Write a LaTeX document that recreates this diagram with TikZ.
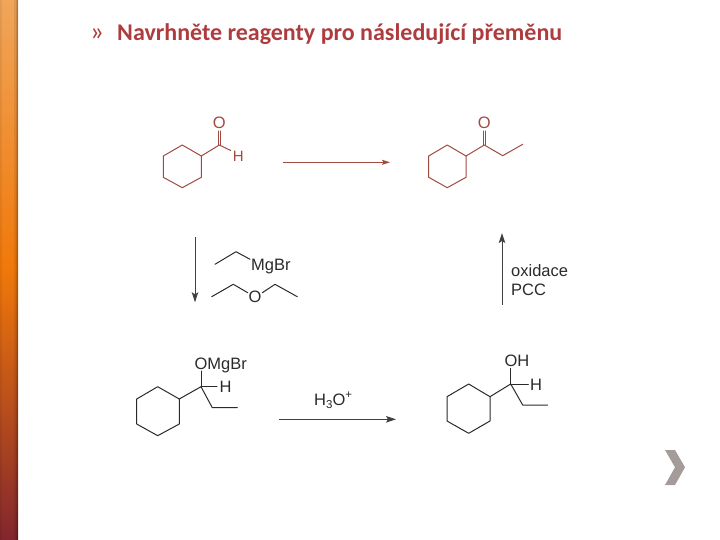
\documentclass[tikz,border=0pt]{standalone}
\usepackage{fontspec}
\setmainfont{Liberation Sans}
\newfontfamily\titlefont{Carlito}
\usetikzlibrary{arrows.meta}
\definecolor{titlered}{HTML}{AE3C3E}
\definecolor{molred}{HTML}{A04A40}
\definecolor{molblack}{HTML}{2A2A2A}
\definecolor{arrowgray}{HTML}{404040}
\definecolor{chevgray}{HTML}{A39C98}
\definecolor{barA}{RGB}{240,165,90}
\definecolor{barB}{RGB}{240,120,10}
\definecolor{barD}{RGB}{130,38,45}
\tikzset{
  bond/.style={line width=1pt,line cap=round,line join=round,color=molblack},
  redbond/.style={bond,color=molred},
  rxnarrow/.style={line width=1pt,color=arrowgray,-{Stealth[length=10pt,width=6.5pt,inset=2pt]}},
  redarrow/.style={rxnarrow,line width=0.9pt,color=molred,-{Stealth[length=8pt,width=5pt,inset=1.5pt]}},
  atom/.style={font=\fontsize{16.5}{18}\selectfont,inner sep=0pt,anchor=base west,text=molblack},
  redatom/.style={atom,text=molred},
  titletext/.style={font=\titlefont\bfseries\fontsize{24}{26}\selectfont,inner sep=0pt,anchor=base west,text=titlered}
}
\begin{document}
\begin{tikzpicture}[x=1pt,y=-1pt]
\useasboundingbox (0,0) rectangle (720,540);
% side bar
\fill[top color=barA,bottom color=barB] (0,0) rectangle (18,270);
\fill[top color=barB,bottom color=barD] (0,270) rectangle (18,540);
\fill[black,opacity=0.08] (14,0) rectangle (18,540);
\fill[black,opacity=0.10] (15.5,0) rectangle (18,540);
\fill[black,opacity=0.12] (17,0) rectangle (18,540);
\fill[black,opacity=0.06] (0,0) rectangle (2,540);
% title
\node[titletext,font=\titlefont\fontsize{27}{28}\selectfont] (bullet) at (90,41) {»};
\node[titletext] (title) at (117,41) {Navrhněte reagenty pro následující přeměnu};
% chevron
\fill[chevgray] (665,450) -- (675,450) -- (685,467.3) -- (675,485) -- (665,485) -- (675,467.3) -- cycle;
% molecule 1
\draw[redbond] (182.3,145) -- (201.3,156) -- (201.3,177.3) -- (182.3,187.7) -- (163.3,177.3) -- (163.3,156) -- cycle;
\draw[redbond] (201.3,156) -- (219.3,145) -- (230.7,150.5);
\draw[redbond] (218,145) -- (218,131) (220.6,145) -- (220.6,131);
\node[redatom,anchor=center] (o1) at (219.3,123.3) {O};
\node[redatom,anchor=center,font=\fontsize{15}{18}\selectfont] (h1) at (238.3,156) {H};
% arrow 1
\coordinate (a1s) at (283.3,162.3);
\coordinate (a1e) at (390,162.3);
\draw[redarrow] (a1s) -- (a1e);
% molecule 2
\draw[redbond] (447.3,145) -- (466,156) -- (466,177.3) -- (447.3,187.7) -- (428.7,177.3) -- (428.7,156) -- cycle;
\draw[redbond] (466,156) -- (484.3,145) -- (502.7,155.7) -- (522.7,144.3);
\draw[redbond] (483,145) -- (483,131) (485.6,145) -- (485.6,131);
\node[redatom,anchor=center] (o2) at (484.3,123.3) {O};
% arrow up
\coordinate (a2s) at (502,305);
\coordinate (a2e) at (502,233);
\draw[rxnarrow] (a2s) -- (a2e);
\node[atom] (oxi) at (511,276.7) {oxidace};
\node[atom] (pcc) at (511,295.7) {PCC};
% arrow down
\coordinate (a3s) at (195,236.7);
\coordinate (a3e) at (195,302.3);
\draw[rxnarrow] (a3s) -- (a3e);
\draw[bond] (215,264.3) -- (236,251.7) -- (250,259.3);
\node[atom] (mgbr) at (251,270) {MgBr};
\draw[bond] (211.7,296.7) -- (233.3,284.3) -- (247.7,292.7);
\node[atom,anchor=center] (oe) at (255,296.7) {O};
\draw[bond] (262.3,292.7) -- (275,284.3) -- (297.3,296.7);
% molecule 3
\draw[bond] (157.7,386.7) -- (179.3,399) -- (179.3,424) -- (157.7,435.7) -- (136.7,424) -- (136.7,399) -- cycle;
\draw[bond] (179.3,399) -- (201,386.7) -- (212.3,407.7) -- (237.3,407.7);
\draw[bond] (201,386.7) -- (201,371);
\draw[bond] (201,386.7) -- (217,386.7);
\node[atom] (omgbr) at (194.3,369) {OMgBr};
\node[atom] (h3) at (219.3,392.7) {H};
% arrow bottom
\coordinate (a4s) at (279.3,419.3);
\coordinate (a4e) at (396,419.3);
\draw[rxnarrow] (a4s) -- (a4e);
\node[atom] (h3o) at (314,405) {H\raisebox{-0.22em}{\fontsize{11.5}{12}\selectfont 3}O\raisebox{0.42em}{\fontsize{11.5}{12}\selectfont +}};
% molecule 4
\draw[bond] (468.7,384) -- (490,396.7) -- (490,421) -- (468.7,433.3) -- (447,421) -- (447,396.7) -- cycle;
\draw[bond] (490,396.7) -- (510.7,384) -- (522.7,405) -- (547.7,405);
\draw[bond] (510.7,384) -- (510.7,368.3);
\draw[bond] (510.7,384) -- (528.3,384);
\node[atom] (oh) at (504.3,366) {OH};
\node[atom] (h4) at (530,390.7) {H};
\end{tikzpicture}
\end{document}
